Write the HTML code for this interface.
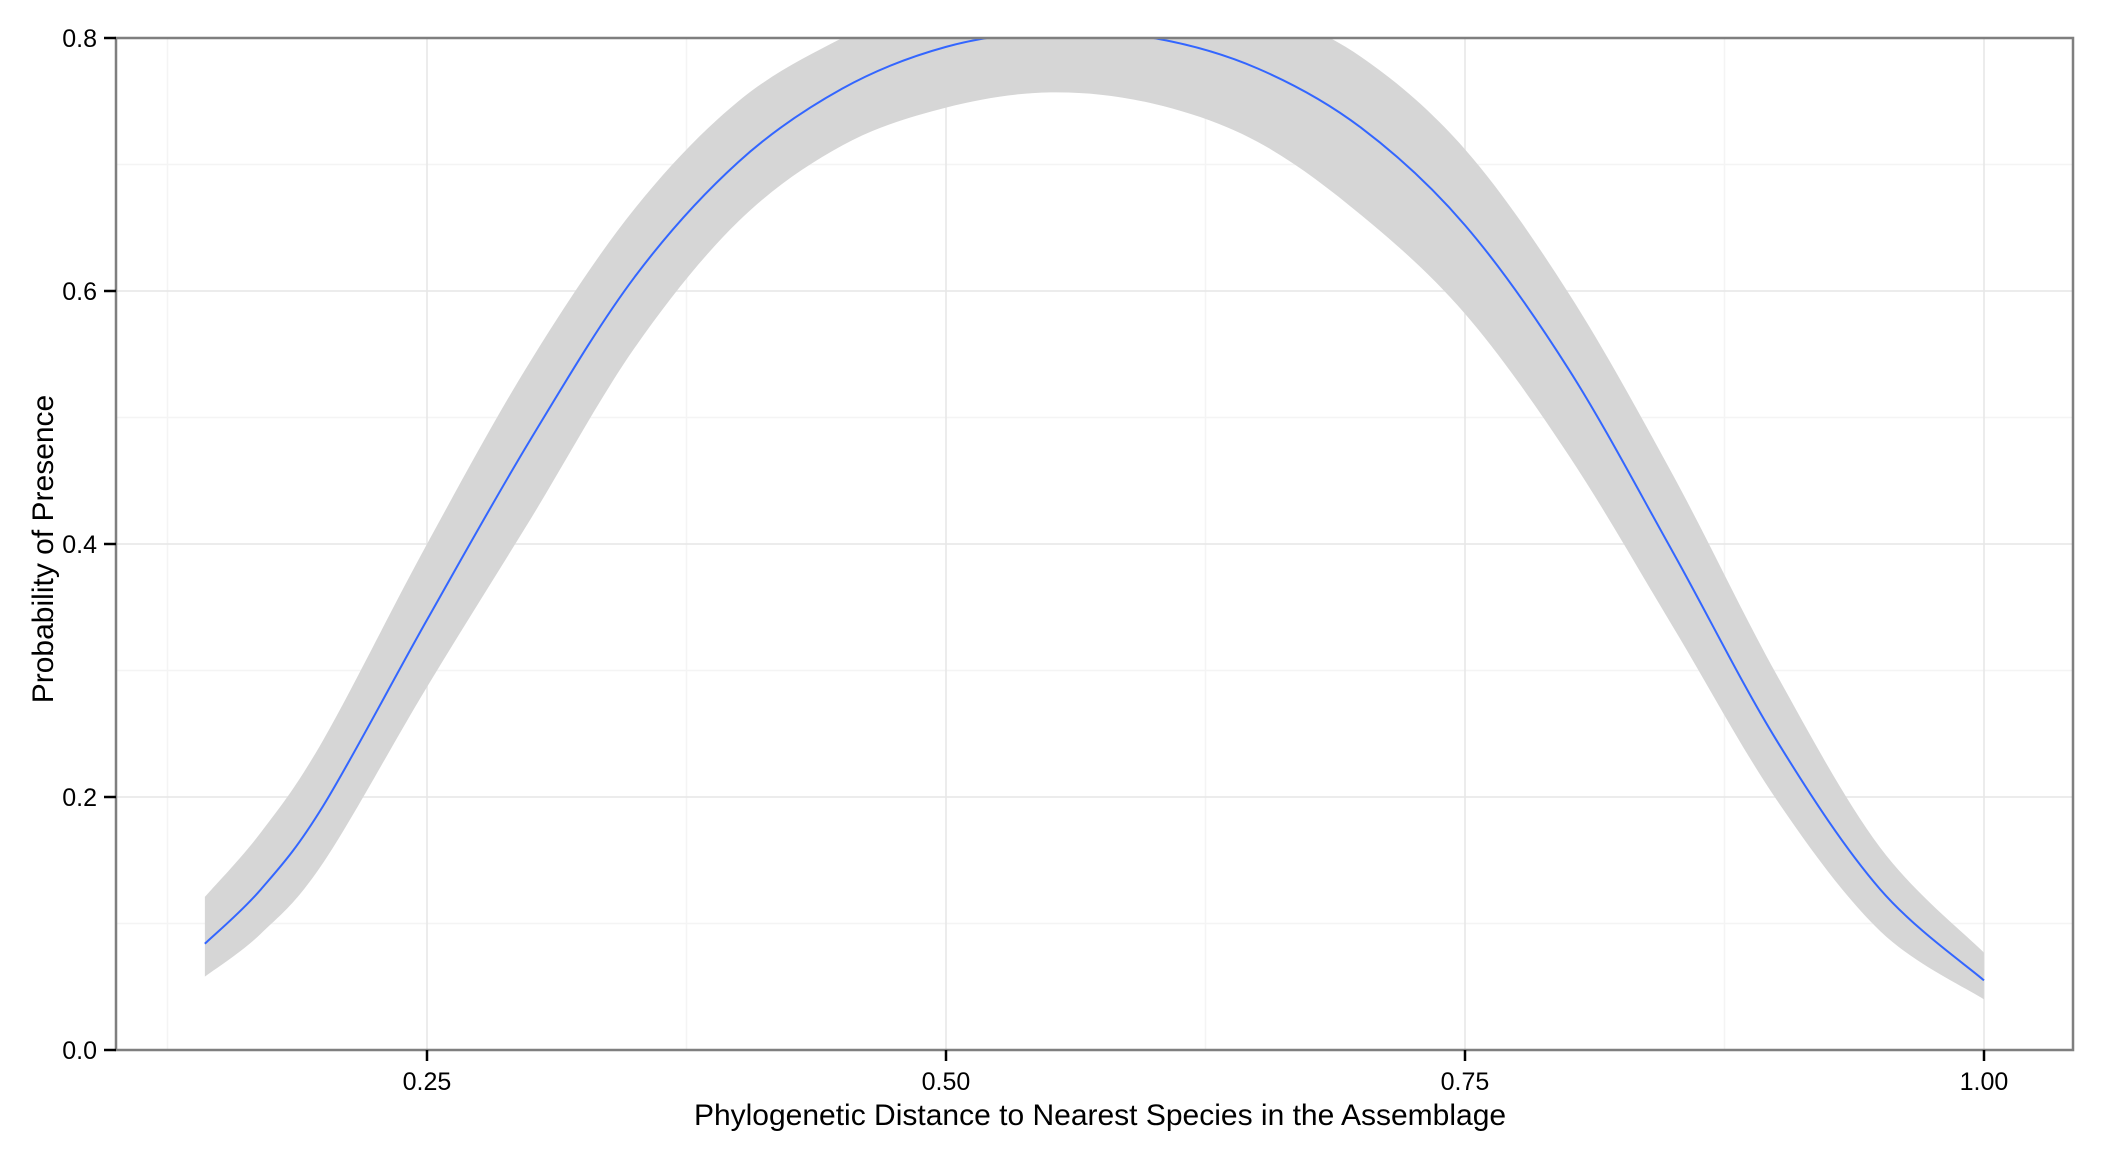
<!DOCTYPE html>
<html><head><meta charset="utf-8"><style>
body{margin:0;background:#fff}
svg{display:block;font-family:"Liberation Sans",Arial,sans-serif}
</style></head><body>
<svg id="chart" width="2112" height="1152" xmlns="http://www.w3.org/2000/svg">
<defs><clipPath id="pc"><rect x="116" y="38" width="1957" height="1012"/></clipPath></defs>
<g id="grid"></g>
<g id="marks" clip-path="url(#pc)"></g>
<rect x="116" y="38" width="1957" height="1012" fill="none" stroke="#7f7f7f" stroke-width="2.5"/>
<g id="axes"></g>
<text x="1100" y="1125" font-size="30" text-anchor="middle">Phylogenetic Distance to Nearest Species in the Assemblage</text>
<text transform="translate(53,549) rotate(-90)" font-size="30" text-anchor="middle">Probability of Presence</text>
</svg>
<script>
const xVals=[0.143,0.17,0.2,0.25,0.3,0.35,0.4,0.45,0.5,0.55,0.6,0.65,0.7,0.75,0.8,0.85,0.9,0.95,1.0];
const fitVals=[0.084,0.127,0.193,0.340,0.483,0.611,0.702,0.760,0.793,0.805,0.800,0.776,0.729,0.652,0.538,0.394,0.245,0.127,0.055];
const lowerVals=[0.058,0.092,0.148,0.287,0.420,0.555,0.655,0.715,0.745,0.757,0.748,0.718,0.660,0.582,0.470,0.335,0.198,0.094,0.040];
const upperVals=[0.121,0.172,0.245,0.400,0.545,0.665,0.750,0.800,0.835,0.848,0.845,0.825,0.785,0.712,0.598,0.455,0.297,0.160,0.077];
const xTicks=[0.25,0.5,0.75,1.0];
const xTickLabels=["0.25","0.50","0.75","1.00"];
const xMinor=[0.125,0.375,0.625,0.875];
const yTicks=[0,0.2,0.4,0.6,0.8];
const yTickLabels=["0.0","0.2","0.4","0.6","0.8"];
const yMinor=[0.1,0.3,0.5,0.7];

const X=v=>427+(v-0.25)*2076;
const Y=v=>1050-v*1265;
const NS="http://www.w3.org/2000/svg";
function mk(tag,attrs,parent){const e=document.createElementNS(NS,tag);for(const k in attrs)e.setAttribute(k,attrs[k]);parent.appendChild(e);return e;}
const grid=document.getElementById('grid'),marks=document.getElementById('marks'),axes=document.getElementById('axes');
xMinor.forEach(v=>{const l=mk('line',{x1:X(v),x2:X(v),y1:38,y2:1050,stroke:'#f4f4f4','stroke-width':1.5},grid);

});
yMinor.forEach(v=>{const l=mk('line',{x1:116,x2:2073,y1:Y(v),y2:Y(v),stroke:'#f4f4f4','stroke-width':1.5},grid);

});
xTicks.forEach(v=>{const l=mk('line',{x1:X(v),x2:X(v),y1:38,y2:1050,stroke:'#e6e6e6','stroke-width':1.5},grid);

});
yTicks.forEach(v=>{const l=mk('line',{x1:116,x2:2073,y1:Y(v),y2:Y(v),stroke:'#e6e6e6','stroke-width':1.5},grid);

});
function smooth(pts){let d=`M${pts[0][0]},${pts[0][1]}`;for(let i=0;i<pts.length-1;i++){const p0=pts[Math.max(i-1,0)],p1=pts[i],p2=pts[i+1],p3=pts[Math.min(i+2,pts.length-1)];
const c1=[p1[0]+(p2[0]-p0[0])/6,p1[1]+(p2[1]-p0[1])/6],c2=[p2[0]-(p3[0]-p1[0])/6,p2[1]-(p3[1]-p1[1])/6];
d+=`C${c1[0]},${c1[1]} ${c2[0]},${c2[1]} ${p2[0]},${p2[1]}`;}return d;}
const up=xVals.map((x,i)=>[X(x),Y(upperVals[i])]);
const lo=xVals.map((x,i)=>[X(x),Y(lowerVals[i])]).reverse();
const rd=smooth(up)+smooth(lo).replace('M','L')+'Z';
const rib=mk('path',{d:rd,fill:'#d6d6d6'},marks);


const fl=mk('path',{d:smooth(xVals.map((x,i)=>[X(x),Y(fitVals[i])])),fill:'none',stroke:'#3366ff','stroke-width':2},marks);


xTicks.forEach((v,i)=>{const t=mk('line',{x1:X(v),x2:X(v),y1:1050,y2:1061,stroke:'#000','stroke-width':2.5},axes);


const tx=mk('text',{x:X(v),y:1090,'font-size':25,'text-anchor':'middle'},axes);tx.textContent=xTickLabels[i];

});
yTicks.forEach((v,i)=>{const t=mk('line',{x1:104,x2:116,y1:Y(v),y2:Y(v),stroke:'#000','stroke-width':2.5},axes);


const tx=mk('text',{x:97,y:Y(v)+9,'font-size':25,'text-anchor':'end'},axes);tx.textContent=yTickLabels[i];

});
</script>
</body></html>
